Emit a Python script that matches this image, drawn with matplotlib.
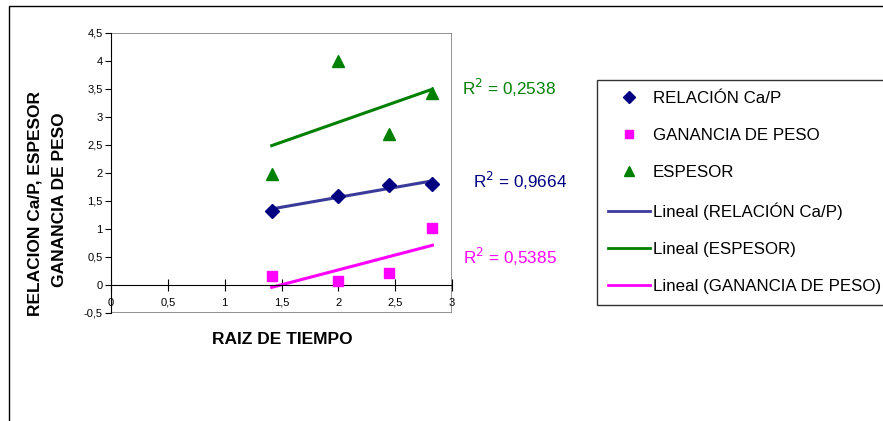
import numpy as np
import matplotlib
matplotlib.use('Agg')
import matplotlib.pyplot as plt
from matplotlib.lines import Line2D
from matplotlib.patches import Rectangle
from matplotlib.ticker import FuncFormatter, MultipleLocator

plt.rcParams['font.family'] = ['Liberation Sans', 'DejaVu Sans']

# raiz del tiempo (sqrt de 2, 4, 6, 8)
raiz_tiempo = [1.414, 2.0, 2.449, 2.828]
relacion_cap = [1.33, 1.59, 1.78, 1.81]
ganancia_peso = [0.155, 0.07, 0.21, 1.01]
espesor = [1.99, 4.0, 2.70, 3.43]

r2_textos = ['R$^2$ = 0,2538', 'R$^2$ = 0,9664', 'R$^2$ = 0,5385']

W, H = 883, 421
fig = plt.figure(figsize=(W / 100, H / 100), dpi=100)

# marco exterior del grafico
fig.patches.append(Rectangle((8.5 / W, -0.1), 1.2, 1.1 - 6.5 / H,
                             transform=fig.transFigure, fill=False,
                             ec='black', lw=1.0))

ax = fig.add_axes([111 / W, 1 - 313 / H, (452 - 111) / W, (313 - 33) / H])
ax.set_xlim(0, 3)
ax.set_ylim(-0.5, 4.5)

ax.add_patch(Rectangle((0, 0), 1, 1, transform=ax.transAxes, fill=False,
                       ec='#808080', lw=1.2, zorder=0))
for s in ['top', 'right']:
    ax.spines[s].set_visible(False)
ax.spines['left'].set_color('black')
ax.spines['bottom'].set_position(('data', 0))
ax.spines['bottom'].set_color('black')

coma = FuncFormatter(lambda v, p: ('%g' % v).replace('.', ','))
ax.xaxis.set_major_locator(MultipleLocator(0.5))
ax.yaxis.set_major_locator(MultipleLocator(0.5))
ax.xaxis.set_major_formatter(coma)
ax.yaxis.set_major_formatter(coma)
ax.tick_params(axis='x', direction='inout', length=8, pad=5, labelsize=8)
ax.tick_params(axis='y', direction='out', length=4, pad=2, labelsize=8)

x = np.array(raiz_tiempo)
series = [
    (relacion_cap, 'D', '#000080', 7, '#3A3A9A', 'RELACIÓN Ca/P'),
    (ganancia_peso, 's', '#FF00FF', 7.5, '#FF00FF', 'GANANCIA DE PESO'),
    (espesor, '^', '#008000', 8.5, '#008000', 'ESPESOR'),
]
for vals, m, c, ms, lc, nombre in series:
    ax.plot(x, vals, linestyle='none', marker=m, color=c, markersize=ms,
            zorder=3, clip_on=False)
    # linea de tendencia lineal
    a, b = np.polyfit(x, vals, 1)
    ax.plot([x[0], x[-1]], [a * x[0] + b, a * x[-1] + b], color=lc, lw=2.2,
            zorder=2, clip_on=False)

fig.text(282 / W, 1 - 340 / H, 'RAIZ DE TIEMPO', ha='center', va='center',
         fontsize=12.5, fontweight='bold')
fig.text(35 / W, 1 - 203 / H, 'RELACION Ca/P, ESPESOR', rotation=90,
         ha='center', va='center', fontsize=12.5, fontweight='bold')
fig.text(60 / W, 1 - 200 / H, 'GANANCIA DE PESO', rotation=90,
         ha='center', va='center', fontsize=12.5, fontweight='bold')

# coeficientes R2
fig.text(462 / W, 1 - 88 / H, r2_textos[0], color='#008000', fontsize=12.3, va='center')
fig.text(473 / W, 1 - 181 / H, r2_textos[1], color='#000080', fontsize=12.3, va='center')
fig.text(463 / W, 1 - 257 / H, r2_textos[2], color='#FF00FF', fontsize=12.3, va='center')

handles = [
    Line2D([], [], linestyle='none', marker='D', color='#000080', markersize=6),
    Line2D([], [], linestyle='none', marker='s', color='#FF00FF', markersize=6),
    Line2D([], [], linestyle='none', marker='^', color='#008000', markersize=7),
    Line2D([], [], color='#3A3A9A', lw=2),
    Line2D([], [], color='#008000', lw=2),
    Line2D([], [], color='#FF00FF', lw=2),
]
labels = ['RELACIÓN Ca/P', 'GANANCIA DE PESO', 'ESPESOR',
          'Lineal (RELACIÓN Ca/P)', 'Lineal (ESPESOR)', 'Lineal (GANANCIA DE PESO)']
leg = fig.legend(handles, labels, loc='upper left',
                 bbox_to_anchor=(597 / W, 1 - 80 / H), borderaxespad=0,
                 fontsize=12.2, frameon=True, fancybox=False, handlelength=2.5,
                 handletextpad=0.15, labelspacing=1.3, borderpad=0.65)
leg.get_frame().set_edgecolor('black')
leg.get_frame().set_linewidth(1.0)

fig.savefig('out.png', dpi=100)
